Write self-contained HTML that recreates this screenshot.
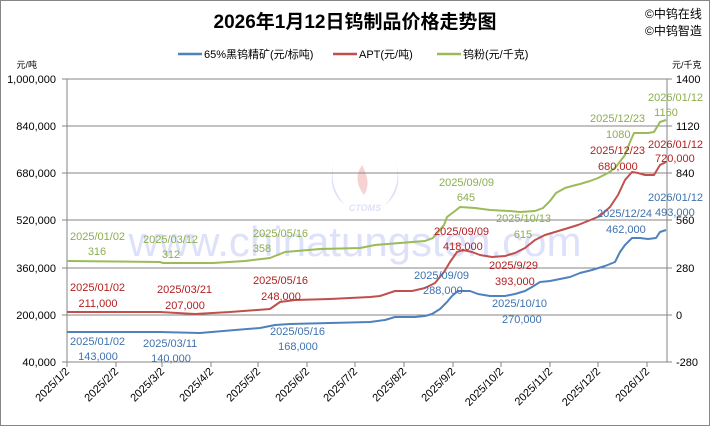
<!DOCTYPE html>
<html><head><meta charset="utf-8"><style>
html,body{margin:0;padding:0;background:#fff}
svg{display:block}
text{font-family:"Liberation Sans","Noto Sans CJK SC",sans-serif}
</style></head><body>
<svg width="710" height="426" viewBox="0 0 710 426" xmlns="http://www.w3.org/2000/svg">
<rect x="0.5" y="0.5" width="709" height="425" fill="#fff" stroke="#868686"/>
<text x="355" y="28" font-size="19" font-weight="bold" text-anchor="middle" fill="#000">2026年1月12日钨制品价格走势图</text>
<text x="645" y="18" font-size="12" fill="#000">©中钨在线</text>
<text x="645" y="35" font-size="12" fill="#000">©中钨智造</text>
<g font-size="11" fill="#000">
<line x1="178" y1="54" x2="202" y2="54" stroke="#4f81bd" stroke-width="2.5"/><text x="204" y="58">65%黑钨精矿(元/标吨)</text>
<line x1="333" y1="54" x2="357" y2="54" stroke="#c0504d" stroke-width="2.5"/><text x="359" y="58">APT(元/吨)</text>
<line x1="437" y1="54" x2="461" y2="54" stroke="#9bbb59" stroke-width="2.5"/><text x="463" y="58">钨粉(元/千克)</text>
</g>
<g opacity="0.25">
<text x="355" y="256" font-family="Liberation Serif,serif" font-size="42" fill="#7c8ce8" text-anchor="middle">www.chinatungsten.com</text>
<text x="365" y="211" font-size="9" font-weight="bold" font-style="italic" fill="#7c8ce8" text-anchor="middle">CTOMS</text>
<path d="M335 160 q-8 25 10 45 q-20 -15 -10 -45z M395 160 q8 25 -10 45 q20 -15 10 -45z" fill="#7c8ce8"/>
<path d="M362 165 q-10 15 2 30 q8 -12 -2 -30z" fill="#e05050"/>
</g>
<g stroke="#868686" stroke-width="1">
<line x1="67" y1="79" x2="667" y2="79"/>
<line x1="67" y1="126" x2="667" y2="126"/>
<line x1="67" y1="173" x2="667" y2="173"/>
<line x1="67" y1="220" x2="667" y2="220"/>
<line x1="67" y1="268" x2="667" y2="268"/>
<line x1="67" y1="315" x2="667" y2="315"/>
<line x1="67" y1="362" x2="667" y2="362"/>
<line x1="67" y1="79" x2="67" y2="362"/>
<line x1="667" y1="79" x2="667" y2="362"/>
<line x1="62" y1="79" x2="67" y2="79"/><line x1="62" y1="126" x2="67" y2="126"/><line x1="62" y1="173" x2="67" y2="173"/><line x1="62" y1="220" x2="67" y2="220"/><line x1="62" y1="268" x2="67" y2="268"/><line x1="62" y1="315" x2="67" y2="315"/><line x1="62" y1="362" x2="67" y2="362"/>
<line x1="667" y1="79" x2="672" y2="79"/><line x1="667" y1="126" x2="672" y2="126"/><line x1="667" y1="173" x2="672" y2="173"/><line x1="667" y1="220" x2="672" y2="220"/><line x1="667" y1="268" x2="672" y2="268"/><line x1="667" y1="315" x2="672" y2="315"/><line x1="667" y1="362" x2="672" y2="362"/>
<line x1="67" y1="362" x2="67" y2="367"/><line x1="116" y1="362" x2="116" y2="367"/><line x1="162" y1="362" x2="162" y2="367"/><line x1="211" y1="362" x2="211" y2="367"/><line x1="258" y1="362" x2="258" y2="367"/><line x1="307" y1="362" x2="307" y2="367"/><line x1="355" y1="362" x2="355" y2="367"/><line x1="404" y1="362" x2="404" y2="367"/><line x1="453" y1="362" x2="453" y2="367"/><line x1="501" y1="362" x2="501" y2="367"/><line x1="550" y1="362" x2="550" y2="367"/><line x1="598" y1="362" x2="598" y2="367"/><line x1="647" y1="362" x2="647" y2="367"/>
</g>
<g font-size="11" fill="#000" text-anchor="end">
<text x="56" y="83">1,000,000</text><text x="56" y="130">840,000</text><text x="56" y="177">680,000</text><text x="56" y="224">520,000</text><text x="56" y="272">360,000</text><text x="56" y="319">200,000</text><text x="56" y="366">40,000</text>
<text x="37" y="68" font-size="9">元/吨</text>
</g>
<g font-size="11" fill="#000">
<text x="676" y="83">1400</text><text x="676" y="130">1120</text><text x="676" y="177">840</text><text x="676" y="224">560</text><text x="676" y="272">280</text><text x="676" y="319">0</text><text x="676" y="366">-280</text>
<text x="672" y="68" font-size="9">元/千克</text>
</g>
<g font-size="11" fill="#000" text-anchor="end">
<text transform="translate(70,372) rotate(-45)">2025/1/2</text>
<text transform="translate(119,372) rotate(-45)">2025/2/2</text>
<text transform="translate(165,372) rotate(-45)">2025/3/2</text>
<text transform="translate(214,372) rotate(-45)">2025/4/2</text>
<text transform="translate(261,372) rotate(-45)">2025/5/2</text>
<text transform="translate(310,372) rotate(-45)">2025/6/2</text>
<text transform="translate(358,372) rotate(-45)">2025/7/2</text>
<text transform="translate(407,372) rotate(-45)">2025/8/2</text>
<text transform="translate(456,372) rotate(-45)">2025/9/2</text>
<text transform="translate(504,372) rotate(-45)">2025/10/2</text>
<text transform="translate(553,372) rotate(-45)">2025/11/2</text>
<text transform="translate(601,372) rotate(-45)">2025/12/2</text>
<text transform="translate(650,372) rotate(-45)">2026/1/2</text>
</g>
<g fill="none" stroke-width="2" stroke-linejoin="round">
<polyline stroke="#9bbb59" points="67,261 160,262 163,263 213,263 245,261 270,258 280,254 285,252 320,249 360,248 375,245 400,243 425,241 433,238 444,225 447,217 455,211 460,207 475,208 490,210 510,211 520,212 535,211 543,208 550,201 556,193 565,188 572,186 580,184 590,181 598,178 608,173 615,168 625,155 630,142 634,133 648,133 654,132 660,122 666,120"/>
<polyline stroke="#c0504d" points="67,312 160,312 195,314 230,312 270,309 280,302 295,300 330,299 370,297 380,296 395,291 412,291 425,288 435,283 444,272 450,262 457,252 463,250 472,252 480,255 492,257 505,256 515,253 525,248 535,240 545,235 555,232 565,229 578,225 588,221 600,216 610,207 618,195 625,180 632,172 638,173 645,175 654,175 660,165 666,162"/>
<polyline stroke="#4f81bd" points="67,332 160,332 200,333 235,330 260,328 275,325 290,324 330,323 370,322 385,320 395,317 415,317 425,316 432,314 440,309 447,302 452,296 458,291 470,291 478,294 490,296 505,296 515,294 525,291 532,287 540,282 550,281 560,279 570,277 580,273 592,270 605,266 615,262 620,252 625,245 632,238 640,238 648,239 656,238 660,232 666,230"/>
</g>
<g font-size="11" fill="#8cae4e">
<text x="70" y="240">2025/01/02</text><text x="97" y="255" text-anchor="middle">316</text>
<text x="143" y="243">2025/03/12</text><text x="171" y="258" text-anchor="middle">312</text>
<text x="253" y="237">2025/05/16</text><text x="262" y="252" text-anchor="middle">358</text>
<text x="439" y="186">2025/09/09</text><text x="466" y="201" text-anchor="middle">645</text>
<text x="496" y="222">2025/10/13</text><text x="523" y="238" text-anchor="middle">615</text>
<text x="590" y="122">2025/12/23</text><text x="606" y="138">1080</text>
<text x="648" y="101">2026/01/12</text><text x="666" y="116" text-anchor="middle">1160</text>
</g>
<g font-size="11" fill="#b42020">
<text x="70" y="291">2025/01/02</text><text x="98" y="307" text-anchor="middle">211,000</text>
<text x="157" y="293">2025/03/21</text><text x="185" y="309" text-anchor="middle">207,000</text>
<text x="253" y="284">2025/05/16</text><text x="281" y="300" text-anchor="middle">248,000</text>
<text x="434" y="235">2025/09/09</text><text x="443" y="250">418,000</text>
<text x="489" y="269">2025/9/29</text><text x="495" y="285">393,000</text>
<text x="590" y="154">2025/12/23</text><text x="598" y="170">680,000</text>
<text x="648" y="148">2026/01/12</text><text x="655" y="162">720,000</text>
</g>
<g font-size="11" fill="#3f72ae">
<text x="70" y="345">2025/01/02</text><text x="98" y="360" text-anchor="middle">143,000</text>
<text x="143" y="347">2025/03/11</text><text x="171" y="362" text-anchor="middle">140,000</text>
<text x="270" y="335">2025/05/16</text><text x="298" y="350" text-anchor="middle">168,000</text>
<text x="414" y="279">2025/09/09</text><text x="423" y="294">288,000</text>
<text x="492" y="307">2025/10/10</text><text x="502" y="323">270,000</text>
<text x="597" y="217">2025/12/24</text><text x="606" y="233">462,000</text>
<text x="648" y="201">2026/01/12</text><text x="655" y="216">493,000</text>
</g>
</svg>
</body></html>
